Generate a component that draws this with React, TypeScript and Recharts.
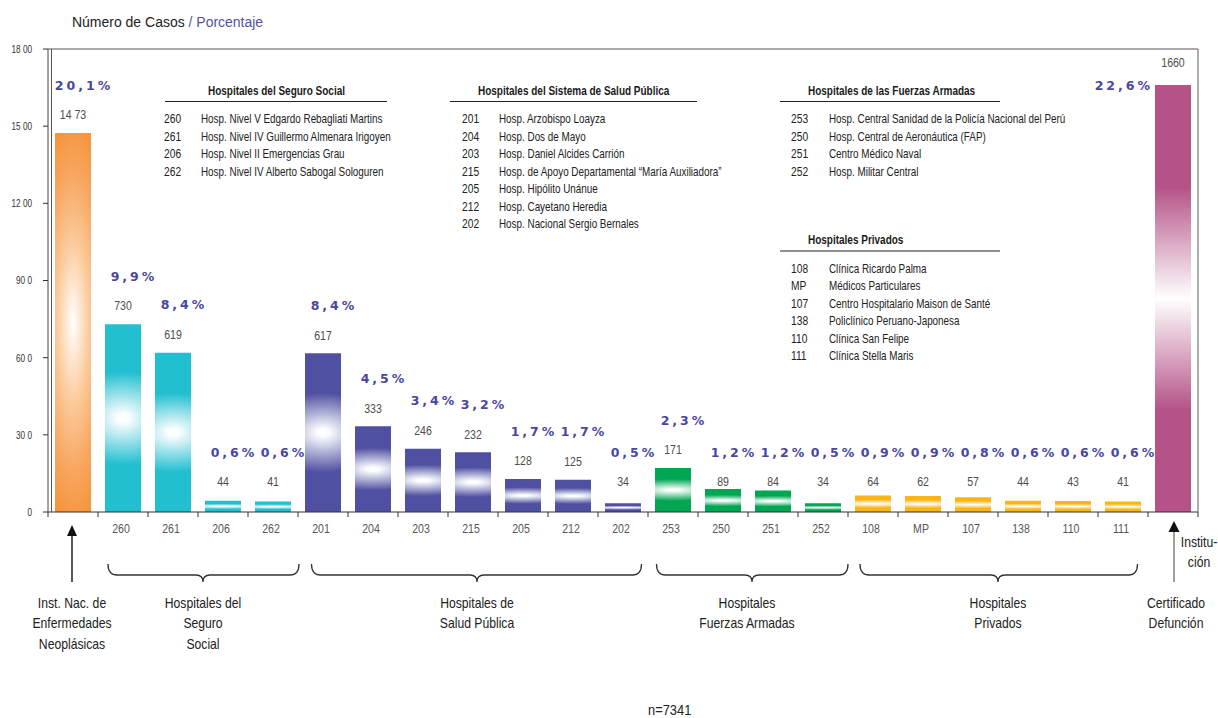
import React from 'react';
import { BarChart, Bar, XAxis, YAxis, Cell, LabelList } from 'recharts';

const categories = ['INEN', '260', '261', '206', '262', '201', '204', '203', '215', '205', '212', '202', '253', '250', '251', '252', '108', 'MP', '107', '138', '110', '111', 'CD'];
const tickLabels = ['', '260', '261', '206', '262', '201', '204', '203', '215', '205', '212', '202', '253', '250', '251', '252', '108', 'MP', '107', '138', '110', '111', ''];
const cases = [1473, 730, 619, 44, 41, 617, 333, 246, 232, 128, 125, 34, 171, 89, 84, 34, 64, 62, 57, 44, 43, 41, 1660];
const caseLabels = ['14 73', '730', '619', '44', '41', '617', '333', '246', '232', '128', '125', '34', '171', '89', '84', '34', '64', '62', '57', '44', '43', '41', '1660'];
const percents = ['20,1%', '9,9%', '8,4%', '0,6%', '0,6%', '8,4%', '4,5%', '3,4%', '3,2%', '1,7%', '1,7%', '0,5%', '2,3%', '1,2%', '1,2%', '0,5%', '0,9%', '0,9%', '0,8%', '0,6%', '0,6%', '0,6%', '22,6%'];
const groups = ['inen', 'seguro', 'seguro', 'seguro', 'seguro', 'salud', 'salud', 'salud', 'salud', 'salud', 'salud', 'salud', 'ffaa', 'ffaa', 'ffaa', 'ffaa', 'privado', 'privado', 'privado', 'privado', 'privado', 'privado', 'cert'];
const yTicks = [0, 300, 600, 900, 1200, 1500, 1800];
const yTickLabels = ['0', '30 0', '60 0', '90 0', '12 00', '15 00', '18 00'];

const seguroCodes = ['260', '261', '206', '262'];
const seguroNames = ['Hosp. Nivel V Edgardo Rebagliati Martins', 'Hosp. Nivel IV Guillermo Almenara Irigoyen', 'Hosp. Nivel II Emergencias Grau', 'Hosp. Nivel IV Alberto Sabogal Sologuren'];
const saludCodes = ['201', '204', '203', '215', '205', '212', '202'];
const saludNames = ['Hosp. Arzobispo Loayza', 'Hosp. Dos de Mayo', 'Hosp. Daniel Alcides Carrión', 'Hosp. de Apoyo Departamental “María Auxiliadora”', 'Hosp. Hipólito Unánue', 'Hosp. Cayetano Heredia', 'Hosp. Nacional Sergio Bernales'];
const ffaaCodes = ['253', '250', '251', '252'];
const ffaaNames = ['Hosp. Central Sanidad de la Policía Nacional del Perú', 'Hosp. Central de Aeronáutica (FAP)', 'Centro Médico Naval', 'Hosp. Militar Central'];
const privCodes = ['108', 'MP', '107', '138', '110', '111'];
const privNames = ['Clínica Ricardo Palma', 'Médicos Particulares', 'Centro Hospitalario Maison de Santé', 'Policlínico Peruano-Japonesa', 'Clínica San Felipe', 'Clínica Stella Maris'];

const groupColors: Record<string, string> = {
  inen: '#f5963f',
  seguro: '#21bfd0',
  salud: '#5050a2',
  ffaa: '#00a651',
  privado: '#fbb616',
  cert: '#b55388',
};

const data = categories.map((c, i) => ({ cat: c, cases: cases[i] }));

const W = 1218;
const H = 718;
const PLOT_LEFT = 48;
const PLOT_RIGHT = 1198;
const PLOT_TOP = 49;
const PLOT_BOTTOM = 512;
const BAND = (PLOT_RIGHT - PLOT_LEFT) / categories.length;

const SANS = "'Liberation Sans', Arial, sans-serif";
const SX = 0.82;
const PCT_COLOR = '#4747a3';

// condensed text helper (horizontal scaling around the anchor point)
const CText = ({ x, y, anchor = 'start', size = 12, fill = '#222', weight = 400, sx = SX, children }: any) => (
  <g transform={`translate(${x},${y}) scale(${sx},1)`}>
    <text x={0} y={0} textAnchor={anchor} dominantBaseline="central" fontFamily={SANS} fontSize={size} fontWeight={weight} fill={fill}>
      {children}
    </text>
  </g>
);

const YTick = (props: any) => {
  const { x, y, payload } = props;
  const i = yTicks.indexOf(payload.value);
  return (
    <CText x={x + 1} y={y} anchor="end" size={10.5} fill="#333" sx={0.78}>
      {yTickLabels[i]}
    </CText>
  );
};

const XTick = (props: any) => {
  const { x, payload, index } = props;
  const i = payload && payload.index != null ? payload.index : index;
  const left = x - BAND / 2;
  return (
    <g>
      <line x1={left} y1={PLOT_BOTTOM} x2={left} y2={PLOT_BOTTOM + 5} stroke="#333" strokeWidth={1} />
      {i === categories.length - 1 && (
        <line x1={x + BAND / 2} y1={PLOT_BOTTOM} x2={x + BAND / 2} y2={PLOT_BOTTOM + 5} stroke="#333" strokeWidth={1} />
      )}
      <CText x={x - 2} y={PLOT_BOTTOM + 17} anchor="middle" size={12} fill="#555" sx={0.88}>
        {tickLabels[i]}
      </CText>
    </g>
  );
};

const BarLabel = (props: any) => {
  const vb = props.viewBox || {};
  const x = props.x != null ? props.x : vb.x;
  const y = props.y != null ? props.y : vb.y;
  const width = props.width != null ? props.width : vb.width;
  const index = props.index;
  if (index == null) return null;
  const cx = x + width / 2;
  const v = cases[index];
  const countY = v < 100 ? PLOT_BOTTOM - 30 : y - 18;
  const isLast = index === categories.length - 1;
  const pctStyle = { fontFamily: "'DejaVu Sans', Verdana, sans-serif", fontWeight: 700, fontSize: 12.5, letterSpacing: 3 } as any;
  return (
    <g>
      <CText x={cx} y={isLast ? y - 22 : countY} anchor="middle" size={12} fill="#4d4d4d" sx={0.88}>
        {caseLabels[index]}
      </CText>
      {isLast ? (
        <text x={x - 2} y={y} textAnchor="end" dominantBaseline="central" fill={PCT_COLOR} style={pctStyle}>
          {percents[index]}
        </text>
      ) : (
        <text x={cx + 11} y={countY - 30} textAnchor="middle" dominantBaseline="central" fill={PCT_COLOR} style={pctStyle}>
          {percents[index]}
        </text>
      )}
    </g>
  );
};

const Brace = ({ x1, x2, mid }: { x1: number; x2: number; mid: number }) => {
  const top = 564;
  const h = 575;
  const tip = 582;
  const d = `M ${x1} ${top} Q ${x1} ${h} ${x1 + 9} ${h} L ${mid - 7} ${h} Q ${mid} ${h} ${mid} ${tip} Q ${mid} ${h} ${mid + 7} ${h} L ${x2 - 9} ${h} Q ${x2} ${h} ${x2} ${top}`;
  return <path d={d} fill="none" stroke="#333" strokeWidth={1.3} />;
};

const LegendBlock = ({ title, titleX, lineX1, lineX2, titleY, codes, names, codeX, nameX }: any) => (
  <g>
    <CText x={titleX} y={titleY} size={12.5} weight={700} fill="#1a1a1a" sx={0.8}>{title}</CText>
    <line x1={lineX1} y1={titleY + 11} x2={lineX2} y2={titleY + 11} stroke="#222" strokeWidth={1.2} />
    {codes.map((c: string, i: number) => (
      <g key={c}>
        <CText x={codeX} y={titleY + 28.5 + i * 17.5} size={12.5}>{c}</CText>
        <CText x={nameX} y={titleY + 28.5 + i * 17.5} size={12.5} sx={0.79}>{names[i]}</CText>
      </g>
    ))}
  </g>
);

const Lines = ({ lines, x, y, step, size }: any) => (
  <g>
    {lines.map((l: string, i: number) => (
      <CText key={i} x={x} y={y + i * step} anchor="middle" size={size} sx={0.84}>
        {l}
      </CText>
    ))}
  </g>
);

export default function App() {
  return (
    <div style={{ position: 'absolute', left: 0, top: 0, width: W, height: H, background: '#fff' }}>
      <div style={{ position: 'absolute', left: 0, top: 0 }}>
        <BarChart width={W} height={H} data={data} margin={{ top: PLOT_TOP, right: W - PLOT_RIGHT, left: 0, bottom: H - PLOT_BOTTOM - 30 }} barSize={36}>
          <defs>
            {Object.keys(groupColors).map((g) => {
              const c = groupColors[g];
              if (g === 'inen') {
                return (
                  <radialGradient key={g} id={`grad-${g}`} cx="0.5" cy="0.5" r="0.5" gradientTransform="translate(0.5,0.5) scale(2.2,1.05) translate(-0.5,-0.5)">
                    <stop offset="0" stopColor="#ffffff" />
                    <stop offset="0.08" stopColor="#fff4ea" />
                    <stop offset="0.4" stopColor="#fbcb9c" />
                    <stop offset="0.75" stopColor="#f8a660" />
                    <stop offset="1" stopColor={c} />
                  </radialGradient>
                );
              }
              if (g === 'cert') {
                return (
                  <linearGradient key={g} id={`grad-${g}`} x1="0" y1="0" x2="0" y2="1">
                    <stop offset="0" stopColor={c} />
                    <stop offset="0.24" stopColor={c} />
                    <stop offset="0.5" stopColor="#ffffff" />
                    <stop offset="0.76" stopColor={c} />
                    <stop offset="1" stopColor={c} />
                  </linearGradient>
                );
              }
              return (
                <radialGradient key={g} id={`grad-${g}`} cx="0.5" cy="0.5" r="0.5" gradientTransform="translate(0.5,0.5) scale(3.4,0.5) translate(-0.5,-0.5)">
                  <stop offset="0" stopColor="#ffffff" />
                  <stop offset="0.1" stopColor="#fbfdfe" />
                  <stop offset="1" stopColor={c} />
                </radialGradient>
              );
            })}
          </defs>
          <XAxis dataKey="cat" interval={0} tickLine={false} axisLine={{ stroke: '#333', strokeWidth: 1.2 }} tick={<XTick />} height={30} />
          <YAxis
            domain={[0, 1800]}
            ticks={yTicks}
            width={PLOT_LEFT}
            tickSize={5}
            tickMargin={12}
            tickLine={{ stroke: '#333' }}
            axisLine={{ stroke: '#444', strokeWidth: 1 }}
            tick={<YTick />}
            allowDataOverflow
          />
          <Bar dataKey="cases" isAnimationActive={false}>
            {data.map((d, i) => (
              <Cell key={d.cat} fill={`url(#grad-${groups[i]})`} />
            ))}
            <LabelList dataKey="cases" content={<BarLabel />} />
          </Bar>
        </BarChart>
      </div>
      <svg width={W} height={H} style={{ position: 'absolute', left: 0, top: 0, pointerEvents: 'none' }}>
        {/* frame */}
        <line x1={PLOT_LEFT} y1={PLOT_TOP} x2={PLOT_RIGHT} y2={PLOT_TOP} stroke="#555" strokeWidth={1} />
        <line x1={PLOT_RIGHT} y1={PLOT_TOP} x2={PLOT_RIGHT} y2={PLOT_BOTTOM} stroke="#777" strokeWidth={1.2} />
        <line x1={PLOT_LEFT + 3.5} y1={PLOT_TOP} x2={PLOT_LEFT + 3.5} y2={PLOT_BOTTOM} stroke="#555" strokeWidth={1} />

        {/* title */}
        <g transform="translate(72,22) scale(0.965,1)">
          <text x={0} y={0} dominantBaseline="central" fontFamily={SANS} fontSize={14.5}>
            <tspan fill="#222">Número de Casos </tspan>
            <tspan fill="#5252a4">/ Porcentaje</tspan>
          </text>
        </g>

        <LegendBlock title="Hospitales del Seguro Social" titleX={208} titleY={90.5} lineX1={165} lineX2={387} codes={seguroCodes} names={seguroNames} codeX={164} nameX={201} />
        <LegendBlock title="Hospitales del Sistema de Salud Pública" titleX={478} titleY={90.5} lineX1={450} lineX2={697} codes={saludCodes} names={saludNames} codeX={462} nameX={499} />
        <LegendBlock title="Hospitales de las Fuerzas Armadas" titleX={808} titleY={90.5} lineX1={780} lineX2={1000} codes={ffaaCodes} names={ffaaNames} codeX={791} nameX={829} />
        <LegendBlock title="Hospitales Privados" titleX={808} titleY={240} lineX1={780} lineX2={1000} codes={privCodes} names={privNames} codeX={791} nameX={829} />

        {/* braces */}
        <Brace x1={108} x2={299} mid={203} />
        <Brace x1={311.5} x2={641.5} mid={477} />
        <Brace x1={656.5} x2={848} mid={752} />
        <Brace x1={860} x2={1137.5} mid={998} />

        {/* arrows */}
        <line x1={72} y1={582} x2={72} y2={534} stroke="#111" strokeWidth={1.4} />
        <polygon points="72,525 67,536 77,536" fill="#111" />
        <line x1={1174} y1={582} x2={1174} y2={530} stroke="#777" strokeWidth={1.4} />
        <polygon points="1174,521 1168.5,532 1179.5,532" fill="#111" />

        {/* group labels */}
        <Lines lines={['Inst. Nac. de', 'Enfermedades', 'Neoplásicas']} x={72} y={603} step={20.5} size={14.5} />
        <Lines lines={['Hospitales del', 'Seguro', 'Social']} x={203} y={603} step={20.5} size={14.5} />
        <Lines lines={['Hospitales de', 'Salud Pública']} x={477} y={603} step={20.5} size={14.5} />
        <Lines lines={['Hospitales', 'Fuerzas Armadas']} x={747} y={603} step={20.5} size={14.5} />
        <Lines lines={['Hospitales', 'Privados']} x={998} y={603} step={20.5} size={14.5} />
        <Lines lines={['Certificado', 'Defunción']} x={1176} y={603} step={20.5} size={14.5} />
        <Lines lines={['Institu-', 'ción']} x={1199} y={542.5} step={20} size={14.5} />

        <CText x={648} y={710} size={14} sx={0.92}>n=7341</CText>
      </svg>
    </div>
  );
}
